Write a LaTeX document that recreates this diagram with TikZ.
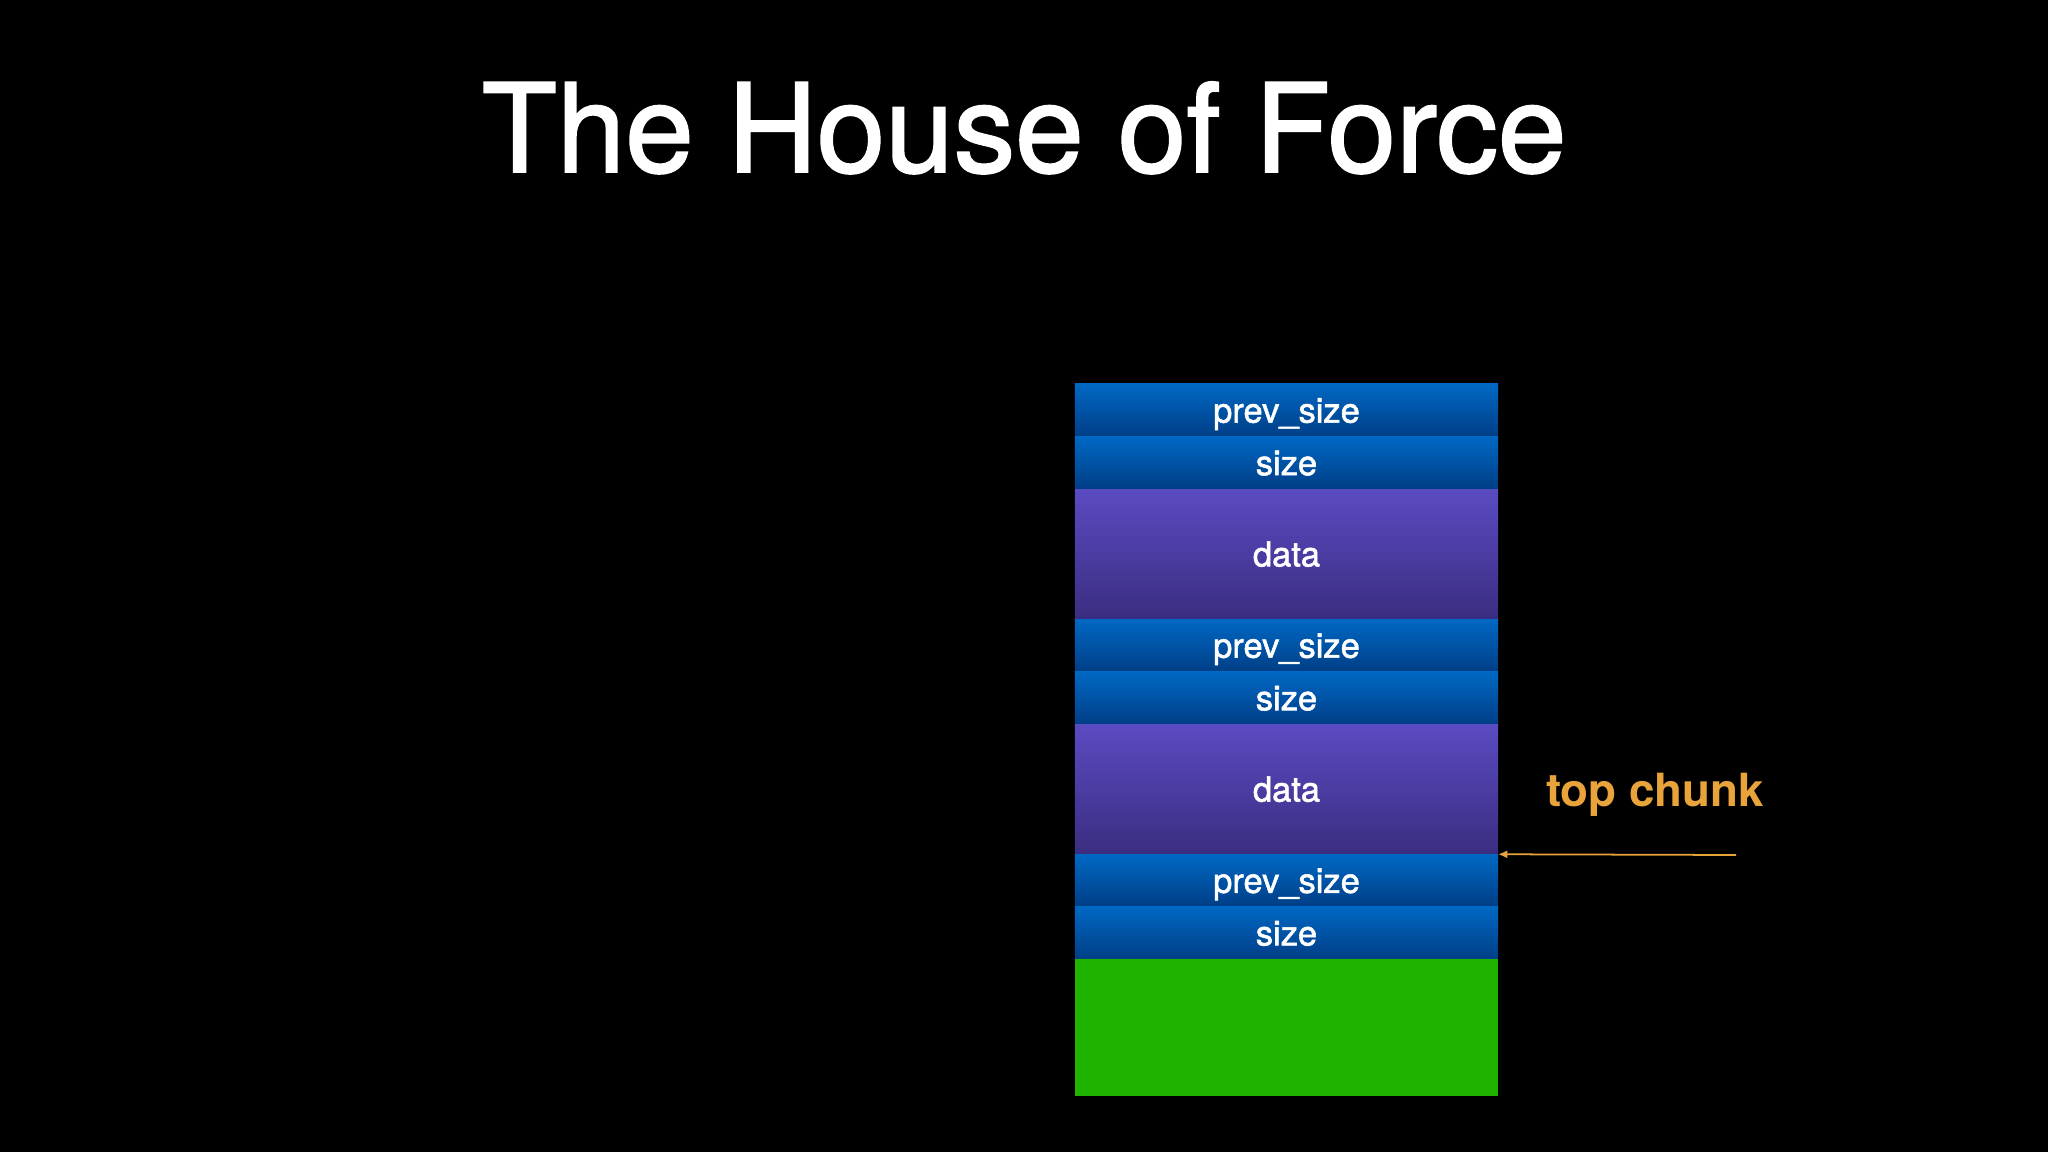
\documentclass[tikz,border=0pt]{standalone}
\usepackage{fontspec}
\setmainfont{TeX Gyre Heros}
\newfontfamily\mediumfont[FakeBold=1.6]{TeX Gyre Heros}
\usetikzlibrary{positioning,arrows.meta,shadings}

\definecolor{slideblue}{HTML}{0068C4}
\definecolor{slidebluedark}{HTML}{003E86}
\definecolor{slidepurple}{HTML}{5A4BC2}
\definecolor{slidepurpledark}{HTML}{3A2D80}
\definecolor{slidegreen}{HTML}{1FB300}
\definecolor{slideorange}{HTML}{E9A33B}

\begin{document}
\begin{tikzpicture}[x=0.01cm,y=-0.01cm,
                    cell/.style={minimum width=4.23cm,inner sep=0pt,outer sep=0pt,
                                 text height=0.88em,text depth=0.18em,
                                 text=white,font=\mediumfont\fontsize{9.8pt}{12pt}\selectfont},
                    header/.style={cell,minimum height=0.525cm,top color=slideblue,bottom color=slidebluedark},
                    payload/.style={cell,minimum height=1.3cm,top color=slidepurple,bottom color=slidepurpledark},
                    wilderness/.style={cell,minimum height=1.37cm,fill=slidegreen},
                    title/.style={text=white,font=\mediumfont\fontsize{35pt}{42pt}\selectfont,anchor=base},
                    pointer/.style={slideorange,line width=0.5pt,-{Latex[length=2.6pt,width=2.3pt]}},
                    pointer label/.style={text=slideorange,font=\bfseries\fontsize{13pt}{16pt}\selectfont}]
    \path[use as bounding box,fill=black] (0,0) rectangle (2048,1152);

    \node[title] (heading) at (1024,172) {The House of Force};

    % first chunk
    \node[header,anchor=north] (prev1) at (1286.5,384) {prev\_size};
    \node[header,below=0pt of prev1] (size1) {size};
    \node[payload,below=0pt of size1] (data1) {data};
    % second chunk
    \node[header,below=0pt of data1] (prev2) {prev\_size};
    \node[header,below=0pt of prev2] (size2) {size};
    \node[payload,below=0pt of size2] (data2) {data};
    % top chunk
    \node[header,below=0pt of data2] (prev3) {prev\_size};
    \node[header,below=0pt of prev3] (size3) {size};
    \node[wilderness,below=0pt of size3] (top) {};

    \coordinate (pointer start) at (1736,855);
    \node[pointer label] (top label) at (1655,795) {top chunk};
    \draw[pointer] (pointer start) -- (prev3.north east);
\end{tikzpicture}
\end{document}
